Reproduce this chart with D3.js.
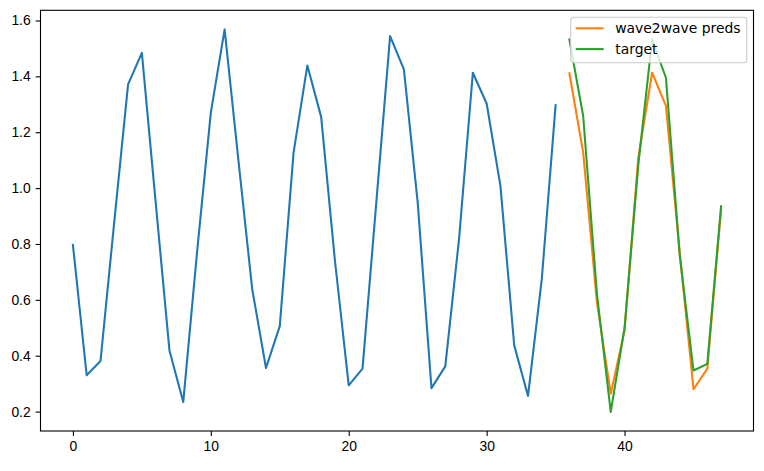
<!DOCTYPE html>
<html>
<head>
<meta charset="utf-8">
<script src="https://cdn.jsdelivr.net/npm/d3@7"></script>
<style>
  body { margin: 0; background: #fff; }
  svg { display: block; font-family: 'DejaVu Sans', sans-serif; }
</style>
</head>
<body>
<svg id="chart" width="764" height="471"></svg>
<script>
// DATA
const history = [
  0.797, 0.330, 0.381, 0.88, 1.371, 1.484, 0.95, 0.419, 0.234, 0.77,
  1.270, 1.568, 1.10, 0.639, 0.356, 0.506, 1.127, 1.439, 1.255, 0.74,
  0.294, 0.354, 0.949, 1.544, 1.425, 0.949, 0.284, 0.362, 0.818, 1.413,
  1.303, 1.008, 0.437, 0.256, 0.675, 1.297,
];
const preds = [1.411, 1.127, 0.59, 0.264, 0.49, 1.11, 1.413, 1.294, 0.77, 0.280, 0.354, 0.925];
const target = [1.532, 1.258, 0.62, 0.199, 0.50, 1.085, 1.532, 1.395, 0.76, 0.347, 0.371, 0.935];
const predStart = history.length;

const xTicks = [0, 10, 20, 30, 40];
const yTicks = [0.2, 0.4, 0.6, 0.8, 1.0, 1.2, 1.4, 1.6];

const series = [
  { name: 'history', values: history.map((v, i) => ({ x: i, y: v })), color: '#1f77b4' },
  { name: 'wave2wave preds', values: preds.map((v, i) => ({ x: predStart + i, y: v })), color: '#ff7f0e' },
  { name: 'target', values: target.map((v, i) => ({ x: predStart + i, y: v })), color: '#2ca02c' },
];

//SETUP
const svg = d3.select('#chart');
const padding = { top: 10.3, right: 10.5, bottom: 40, left: 40.5 };
const width = +svg.attr('width');
const height = +svg.attr('height');

//SCALE
const allPts = series.flatMap((s) => s.values);
const xExt = d3.extent(allPts, (d) => d.x);
const yExt = d3.extent(allPts, (d) => d.y);
const xPad = (xExt[1] - xExt[0]) * 0.05;
const yPad = (yExt[1] - yExt[0]) * 0.05;

const xScale = d3
  .scaleLinear()
  .domain([xExt[0] - xPad, xExt[1] + xPad])
  .range([padding.left, width - padding.right]);

const yScale = d3
  .scaleLinear()
  .domain([yExt[0] - yPad, yExt[1] + yPad])
  .range([height - padding.bottom, padding.top]);

//LINES
const path = d3
  .line()
  .x((d) => xScale(d.x))
  .y((d) => yScale(d.y));

svg
  .selectAll('.line')
  .data(series)
  .enter()
  .append('path')
  .classed('line', true)
  .attr('d', (d) => path(d.values))
  .attr('fill', 'none')
  .attr('stroke', (d) => d.color)
  .attr('stroke-width', 2.08)
  .attr('stroke-linejoin', 'round')
  .attr('stroke-linecap', 'square');

//AXIS
const xAxis = d3.axisBottom(xScale).tickValues(xTicks).tickSize(4.9).tickPadding(4.9).tickFormat(d3.format('d'));
svg
  .append('g')
  .attr('transform', `translate(0,${height - padding.bottom})`)
  .call(xAxis);

const yAxis = d3.axisLeft(yScale).tickValues(yTicks).tickSize(4.9).tickPadding(4.9).tickFormat(d3.format('.1f'));
svg
  .append('g')
  .attr('transform', `translate(${padding.left},0)`)
  .call(yAxis);

svg.selectAll('.tick line').attr('stroke', '#000').attr('stroke-width', 1.1);
svg.selectAll('.tick text').attr('fill', '#000').style('font-size', '13.9px');
svg.selectAll('.domain').remove();

//FRAME
svg
  .append('rect')
  .attr('x', padding.left)
  .attr('y', padding.top)
  .attr('width', width - padding.right - padding.left)
  .attr('height', height - padding.bottom - padding.top)
  .attr('fill', 'none')
  .attr('stroke', '#000')
  .attr('stroke-width', 1.1);

//LEGEND
const legendItems = series.slice(1);
const legend = svg.append('g').attr('transform', 'translate(570.7,17.3)');

legend
  .append('rect')
  .attr('width', 176)
  .attr('height', 45.4)
  .attr('rx', 2.8)
  .attr('fill', 'rgba(255,255,255,0.8)')
  .attr('stroke', '#cccccc')
  .attr('stroke-width', 1.1);

const row = legend
  .selectAll('.legend-row')
  .data(legendItems)
  .enter()
  .append('g')
  .classed('legend-row', true)
  .attr('transform', (d, i) => `translate(0,${11 + i * 20.8})`);

row
  .append('line')
  .attr('x1', 5)
  .attr('x2', 33)
  .attr('stroke', (d) => d.color)
  .attr('stroke-width', 2.08);

row
  .append('text')
  .attr('x', 44.5)
  .attr('dy', '0.35em')
  .style('font-size', '13.9px')
  .attr('fill', '#000')
  .text((d) => d.name);
</script>
</body>
</html>
